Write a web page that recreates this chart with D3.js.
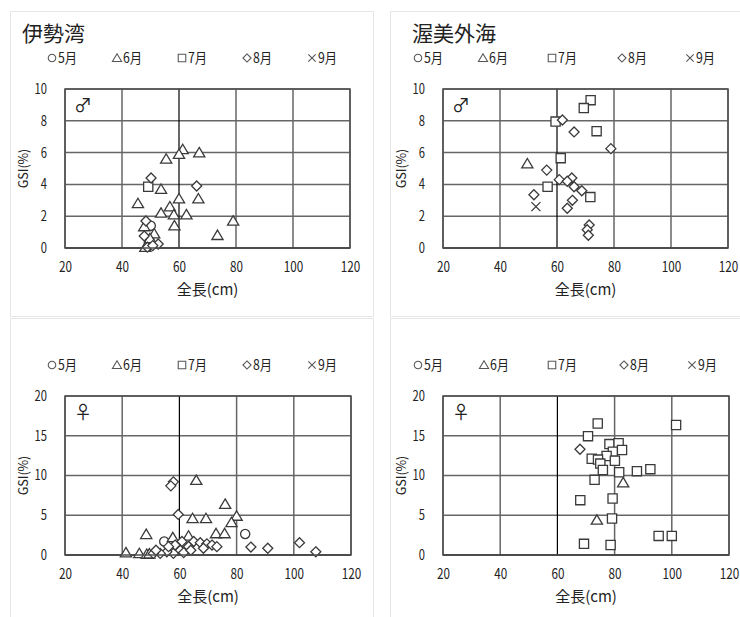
<!DOCTYPE html>
<html lang="ja">
<head>
<meta charset="utf-8">
<script src="https://cdn.jsdelivr.net/npm/d3@7"></script>
<style>
  html, body { margin: 0; padding: 0; background: #fff; }
  svg { display: block; }
  text { font-family: "Noto Sans CJK JP", "Noto Sans", sans-serif; fill: #222; }
</style>
</head>
<body>
<svg id="chart" width="740" height="617"></svg>
<script>
// 全長 (cm) と GSI (%) の組: [全長, GSI]
const iseMaleMay = [[50.1, 1.4], [49.6, 0.55]];
const iseMaleJun = [[61.3, 6.2], [60, 5.9], [55.5, 5.6], [67.1, 6.0], [53.7, 3.7], [60, 3.1], [66.8, 3.1],
  [45.6, 2.8], [56.8, 2.6], [53.7, 2.2], [58.2, 2.1], [62.6, 2.1], [58.4, 1.4], [79, 1.7], [73.5, 0.8],
  [47.8, 1.35], [51.3, 0.9], [49.8, 0.6], [48.2, 0.05]];
const iseMaleJul = [[49.2, 3.85]];
const iseMaleAug = [[50.2, 4.4], [66.2, 3.9], [48.4, 1.7], [47.8, 0.75], [52.7, 0.25], [48.9, 0.05], [50.8, 0.15]];
const iseMaleSep = [];

const atsumiMaleMay = [];
const atsumiMaleJun = [[49.6, 5.3]];
const atsumiMaleJul = [[71.8, 9.3], [69.4, 8.8], [59.5, 7.95], [73.9, 7.35], [61.3, 5.65], [56.7, 3.85], [71.7, 3.2]];
const atsumiMaleAug = [[61.9, 8.05], [66, 7.3], [78.9, 6.25], [56.4, 4.9], [60.8, 4.3], [65.2, 4.4], [63.6, 4.2],
  [66, 3.85], [68.7, 3.6], [51.9, 3.35], [65.4, 3.0], [63.6, 2.5], [71.3, 1.45], [70.6, 1.15], [71, 0.8]];
const atsumiMaleSep = [[52.6, 2.6]];

const iseFemaleMay = [[83, 2.65], [54.7, 1.7], [57.5, 0.9]];
const iseFemaleJun = [[65.9, 9.4], [76, 6.4], [80, 4.9], [78.2, 4.1], [64.6, 4.6], [69.3, 4.6], [48.4, 2.6],
  [57.7, 2.2], [63.2, 2.4], [72.8, 2.7], [75.8, 2.7], [41.3, 0.3], [46, 0.2], [48.6, 0.1], [49.5, 0.15], [62.5, 0.5]];
const iseFemaleJul = [];
const iseFemaleAug = [[57.9, 9.2], [57, 8.7], [59.6, 5.1], [85, 1.0], [90.9, 0.85], [102, 1.55], [107.7, 0.4],
  [65, 1.7], [67.3, 1.55], [69.6, 1.4], [71.4, 1.25], [73.1, 1.05], [68.4, 0.85], [63.2, 1.05], [60.3, 0.6],
  [57.9, 0.2], [55.6, 0.4], [53.3, 0.2], [50.9, 0.2], [60.9, 1.7], [58.5, 1.25], [56.2, 1.05], [51.8, 0.6],
  [61.5, 0.3], [64, 0.6]];
const iseFemaleSep = [];

const atsumiFemaleMay = [];
const atsumiFemaleJun = [[83, 9.1], [73.8, 4.4]];
const atsumiFemaleJul = [[74.1, 16.55], [101.5, 16.35], [70.7, 14.95], [78.2, 13.95], [81.4, 14.05], [79.4, 13.0],
  [82.6, 13.2], [77.2, 12.45], [72, 12.1], [74.2, 12.0], [80.1, 11.85], [75, 11.5], [75.9, 10.7], [81.6, 10.4],
  [87.8, 10.55], [92.5, 10.8], [73, 9.45], [79.3, 7.1], [68, 6.9], [79.1, 4.6], [95.4, 2.4], [100, 2.4],
  [69.3, 1.4], [78.6, 1.25]];
const atsumiFemaleAug = [[67.9, 13.3]];
const atsumiFemaleSep = [];

const months = ["5月", "6月", "7月", "8月", "9月"];
const xTicks = [20, 40, 60, 80, 100, 120];
const maleYTicks = [0, 2, 4, 6, 8, 10];
const femaleYTicks = [0, 5, 10, 15, 20];

// マーカー形状 (月ごと)
const markerPaths = [
  "M4.6,0A4.6,4.6 0 1,1 -4.6,0A4.6,4.6 0 1,1 4.6,0Z",
  "M0,-5.2L5.6,4.2L-5.6,4.2Z",
  "M-4.6,-4.6H4.6V4.6H-4.6Z",
  "M0,-5L5,0L0,5L-5,0Z",
  "M-4.5,-4.5L4.5,4.5M4.5,-4.5L-4.5,4.5"
];

const panels = [
  { title: "伊勢湾", sex: "♂", series: [iseMaleMay, iseMaleJun, iseMaleJul, iseMaleAug, iseMaleSep],
    yMax: 10, yTicks: maleYTicks, x0: 65, x1: 350, y0: 89, y1: 248,
    legendY: 58, legendX: [48, 113, 178, 243, 308], titleX: 22, titleY: 41, box: [10, 11, 363, 305] },
  { title: "渥美外海", sex: "♂", series: [atsumiMaleMay, atsumiMaleJun, atsumiMaleJul, atsumiMaleAug, atsumiMaleSep],
    yMax: 10, yTicks: maleYTicks, x0: 443, x1: 728, y0: 89, y1: 248,
    legendY: 58, legendX: [414, 479, 548, 618, 686], titleX: 412, titleY: 41, box: [390, 11, 360, 305] },
  { title: null, sex: "♀", series: [iseFemaleMay, iseFemaleJun, iseFemaleJul, iseFemaleAug, iseFemaleSep],
    yMax: 20, yTicks: femaleYTicks, x0: 65, x1: 351, y0: 396, y1: 555,
    legendY: 365, legendX: [48, 113, 178, 243, 308], box: [10, 318, 363, 310] },
  { title: null, sex: "♀", series: [atsumiFemaleMay, atsumiFemaleJun, atsumiFemaleJul, atsumiFemaleAug, atsumiFemaleSep],
    yMax: 20, yTicks: femaleYTicks, x0: 443, x1: 729, y0: 396, y1: 555,
    legendY: 365, legendX: [414, 480, 548, 620, 688], box: [390, 318, 360, 310] }
];

const svg = d3.select("#chart");

panels.forEach(p => {
  const g = svg.append("g");

  // パネルの薄い枠
  g.append("rect")
    .attr("x", p.box[0] + 0.5).attr("y", p.box[1] + 0.5)
    .attr("width", p.box[2]).attr("height", p.box[3])
    .attr("fill", "none").attr("stroke", "#e6e6e6").attr("stroke-width", 1);

  const x = d3.scaleLinear().domain([20, 120]).range([p.x0, p.x1]);
  const y = d3.scaleLinear().domain([0, p.yMax]).range([p.y1, p.y0]);

  if (p.title) {
    g.append("text").attr("x", p.titleX).attr("y", p.titleY)
      .attr("font-size", 21).attr("fill", "#111").text(p.title);
  }

  // 凡例 (小さな記号 + 月)
  months.forEach((m, i) => {
    g.append("path").attr("d", markerPaths[i])
      .attr("transform", `translate(${p.legendX[i] + 4},${p.legendY}) scale(0.82)`)
      .attr("fill", "none").attr("stroke", "#555").attr("stroke-width", 1.3);
    g.append("text").attr("x", p.legendX[i] + 10).attr("y", p.legendY + 5)
      .attr("font-size", 14).attr("fill", "#333")
      .attr("transform", `translate(${(p.legendX[i] + 10) * 0.12},0) scale(0.88,1)`)
      .text(m);
  });

  // 目盛線
  const grid = g.append("g");
  grid.selectAll("line.v").data(xTicks.filter(t => t !== 60))
    .join("line")
    .attr("x1", d => x(d)).attr("x2", d => x(d))
    .attr("y1", p.y0).attr("y2", p.y1)
    .attr("stroke", "#666").attr("stroke-width", 1.5);
  grid.selectAll("line.h").data(p.yTicks.filter(t => t !== 0))
    .join("line")
    .attr("x1", p.x0).attr("x2", p.x1)
    .attr("y1", d => y(d)).attr("y2", d => y(d))
    .attr("stroke", "#666").attr("stroke-width", 1.5);

  // 縦軸 (全長 60cm で交差) と横軸
  g.append("line").attr("x1", x(60)).attr("x2", x(60))
    .attr("y1", p.y0).attr("y2", p.y1).attr("stroke", "#000").attr("stroke-width", 1.2);
  g.append("line").attr("x1", p.x0).attr("x2", p.x1)
    .attr("y1", y(0)).attr("y2", y(0)).attr("stroke", "#000").attr("stroke-width", 1.5);

  // 目盛ラベル (縦長の数字)
  const xAxis = d3.axisBottom(x).tickValues(xTicks).tickSize(0).tickPadding(0);
  const xa = g.append("g").attr("transform", `translate(0,${p.y1 + 13})`).call(xAxis);
  xa.select(".domain").remove();
  xa.selectAll("text").attr("font-size", 15).attr("fill", "#1a1a1a")
    .attr("font-family", "'Noto Sans CJK JP', sans-serif")
    .attr("transform", "scale(0.78,1)");

  const yAxis = d3.axisLeft(y).tickValues(p.yTicks).tickSize(0).tickPadding(0);
  const ya = g.append("g").attr("transform", `translate(${p.x0 - 18},0)`).call(yAxis);
  ya.select(".domain").remove();
  ya.selectAll("text").attr("font-size", 14).attr("fill", "#1a1a1a")
    .attr("font-family", "'Noto Sans CJK JP', sans-serif")
    .attr("transform", "scale(0.8,1)");

  // 軸タイトル
  g.append("text").attr("x", (p.x0 + p.x1) / 2).attr("y", p.y1 + 47)
    .attr("text-anchor", "middle").attr("font-size", 15).text("全長(cm)");
  g.append("text")
    .attr("transform", `translate(${p.x0 - 37},${(p.y0 + p.y1) / 2}) rotate(-90)`)
    .attr("text-anchor", "middle").attr("font-size", 12.5).text("GSI(%)");

  // 性別記号
  g.append("text").attr("x", p.x0 + 9).attr("y", p.y0 + 23)
    .attr("font-size", 18).attr("fill", "#333").text(p.sex);

  // データ点
  p.series.forEach((pts, i) => {
    g.append("g").selectAll("path").data(pts).join("path")
      .attr("d", markerPaths[i])
      .attr("transform", d => `translate(${x(d[0])},${y(d[1])})`)
      .attr("fill", i === 4 ? "none" : "#fff")
      .attr("stroke", "#3a3a3a").attr("stroke-width", 1.3);
  });

  // プロット枠
  g.append("rect").attr("x", p.x0).attr("y", p.y0)
    .attr("width", p.x1 - p.x0).attr("height", p.y1 - p.y0)
    .attr("fill", "none").attr("stroke", "#505050").attr("stroke-width", 1.5);
});
</script>
</body>
</html>
